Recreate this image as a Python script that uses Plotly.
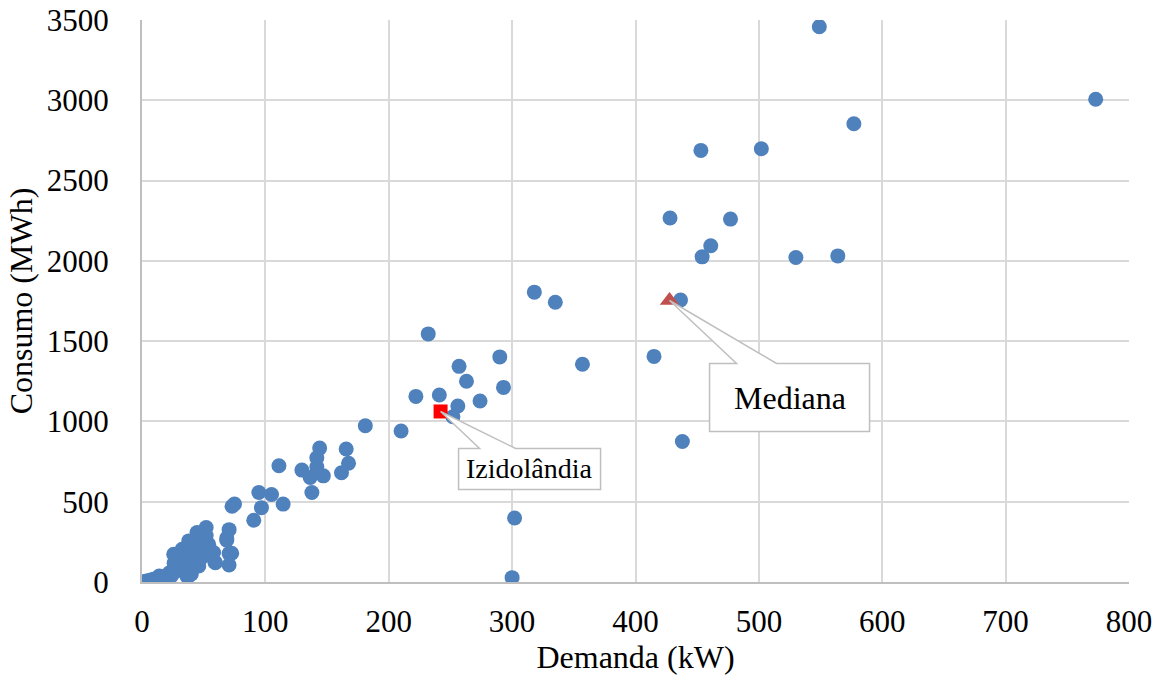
import plotly.graph_objects as go

# Municipalities: demand (kW) vs consumption (MWh)
demanda = [
    773, 549, 577, 453, 502, 428, 477, 461, 454, 530, 564, 436.5, 415, 438,
    318, 335, 232, 357, 290, 293, 257, 263, 222, 241, 274, 256, 252, 210, 181,
    302, 300,
    144, 165.5, 141.7, 111, 129.6, 141.7, 167.4, 161.7, 136.3, 147, 137.7, 94.7,
    105, 96.8, 114.4, 73, 75, 90.6, 70.6, 68.7, 70.6, 70.6, 72.7, 59, 68.7,
    52, 44.6, 37.9, 54, 25.7, 32.5, 59.5, 46, 36.5, 12, 4, 20, 31, 36.5, 50,
    58, 27, 43, 47, 40.6, 30, 22, 14, 7, 2, 26, 28, 37,
    3, 5, 6, 8, 9, 10, 11, 13, 15, 16, 17, 18, 19, 21, 23, 24, 25, 27, 29,
    33, 35, 38, 40, 42, 48, 55, 34, 45, 39, 52, 48,
]
consumo = [
    3006, 3458, 2854, 2688, 2698, 2267, 2260, 2094, 2025, 2021, 2031, 1756, 1405, 875,
    1805, 1742, 1545, 1356, 1402, 1212, 1343, 1250, 1156, 1165, 1127, 1096, 1029, 940, 973,
    399, 27,
    834, 828, 774, 724, 697, 717, 740, 680, 651, 661, 557, 557,
    545, 463, 485, 472, 486, 385, 326, 273, 177, 106, 179, 125, 260,
    339, 308, 256, 235, 173, 204, 120, 100, 37, 17, 0, 37, 120, 142, 204,
    183, 156, 212, 256, 181, 81, 56, 37, 12, 2, 118, 100, 31,
    5, 8, 3, 10, 14, 18, 12, 22, 25, 30, 20, 35, 28, 42, 48, 40, 60, 65, 75,
    90, 60, 70, 50, 130, 150, 170, 170, 230, 225, 290, 270,
]

izido_x = [242]
izido_y = [1062]
izido_label = "Izidolândia"

mediana_x = [427.6]
mediana_y = [1753]
mediana_label = "Mediana"

x_ticks = [0, 100, 200, 300, 400, 500, 600, 700, 800]
y_ticks = [0, 500, 1000, 1500, 2000, 2500, 3000, 3500]

FONT = "Liberation Serif"
GRID = "#d9d9d9"
BORDER = "#bfbfbf"

fig = go.Figure()
fig.add_trace(go.Scatter(
    x=demanda, y=consumo, mode="markers",
    marker=dict(color="#4f81bd", size=15, line=dict(width=0)),
    showlegend=False, hoverinfo="x+y",
))
fig.add_trace(go.Scatter(
    x=izido_x, y=izido_y, mode="markers",
    marker=dict(color="#ff0000", size=14, symbol="square", line=dict(width=0)),
    showlegend=False,
))
fig.add_trace(go.Scatter(
    x=mediana_x, y=mediana_y, mode="markers",
    marker=dict(color="#c0504d", size=17, symbol="triangle-up", line=dict(width=0)),
    showlegend=False,
))


def callout(ax, ay, box_l, box_r, box_t, box_b, w_l, w_r):
    # pixel offsets relative to the data anchor (y positive upward)
    path = (f"M 0 0 L {w_l} {box_t} L {box_l} {box_t} L {box_l} {box_b} "
            f"L {box_r} {box_b} L {box_r} {box_t} L {w_r} {box_t} Z")
    return dict(type="path", xref="x", yref="y", xsizemode="pixel", ysizemode="pixel",
                xanchor=ax, yanchor=ay, path=path, fillcolor="white",
                line=dict(color=BORDER, width=1.5), layer="above")


fig.add_shape(**callout(izido_x[0], izido_y[0], 18, 160, -37, -78, 39, 75))
fig.add_shape(**callout(mediana_x[0], mediana_y[0], 40, 200, -63, -131, 67, 107))

fig.add_annotation(x=izido_x[0], y=izido_y[0], text=izido_label, showarrow=False,
                   xshift=89, yshift=-57.5, font=dict(family=FONT, size=28, color="black"))
fig.add_annotation(x=mediana_x[0], y=mediana_y[0], text=mediana_label, showarrow=False,
                   xshift=120, yshift=-97, font=dict(family=FONT, size=32, color="black"))

fig.update_layout(
    width=1164, height=684,
    margin=dict(l=142, r=35, t=20, b=102),
    paper_bgcolor="white", plot_bgcolor="white",
    font=dict(family=FONT, size=31, color="black"),
)
fig.update_xaxes(
    range=[0, 800], tickvals=x_ticks, ticktext=[str(v) for v in x_ticks],
    showgrid=True, gridcolor=GRID, gridwidth=2,
    showline=True, linecolor=BORDER, linewidth=2, mirror=False,
    zeroline=False, ticks="", ticklabelstandoff=11,
    title=dict(text="Demanda (kW)", font=dict(family=FONT, size=32), standoff=4),
    automargin=False,
)
fig.update_yaxes(
    range=[0, 3500], tickvals=y_ticks, ticktext=[str(v) for v in y_ticks],
    showgrid=True, gridcolor=GRID, gridwidth=2,
    showline=True, linecolor=BORDER, linewidth=2,
    zeroline=False, ticks="", ticklabelstandoff=25,
    title=dict(text="Consumo (MWh)", font=dict(family=FONT, size=32), standoff=5),
    automargin=False,
)

fig.write_html("out.html")
